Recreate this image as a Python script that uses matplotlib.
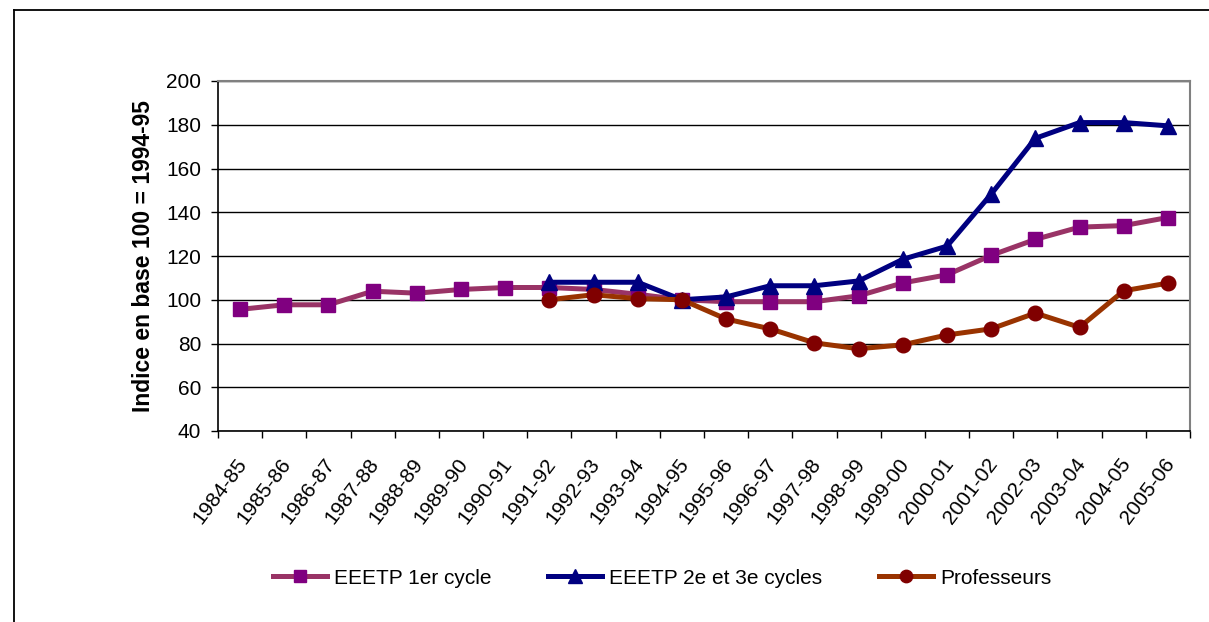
import matplotlib
matplotlib.use("Agg")
import matplotlib.pyplot as plt
from matplotlib.lines import Line2D

plt.rcParams['font.family'] = ['Liberation Sans', 'DejaVu Sans']

years = ['1984-85', '1985-86', '1986-87', '1987-88', '1988-89', '1989-90',
         '1990-91', '1991-92', '1992-93', '1993-94', '1994-95', '1995-96',
         '1996-97', '1997-98', '1998-99', '1999-00', '2000-01', '2001-02',
         '2002-03', '2003-04', '2004-05', '2005-06']

eeetp_1er = [95.6, 97.7, 97.7, 103.9, 103.0, 104.7, 105.6, 105.6, 104.7, 102.5,
             100.0, 99.1, 99.1, 99.1, 101.8, 107.7, 111.4, 120.3, 127.6, 133.2,
             133.9, 137.6]
eeetp_23 = [None] * 7 + [108.0, 108.0, 108.0, 100.0, 101.3, 106.4, 106.4, 108.6,
                         118.5, 124.5, 148.3, 173.8, 181.0, 181.0, 179.5]
profs = [None] * 7 + [100.0, 102.3, 100.5, 100.0, 91.2, 86.7, 80.3, 77.6, 79.4,
                      83.9, 86.7, 93.9, 87.4, 104.1, 107.6]

series = [
    ('EEETP 1er cycle', eeetp_1er, '#993366', '#800080', 's', 10.5),
    ('EEETP 2e et 3e cycles', eeetp_23, '#000080', '#000080', '^', 11.5),
    ('Professeurs', profs, '#993300', '#800000', 'o', 10.5),
]

fig = plt.figure(figsize=(12.09, 6.22), dpi=100)
ax = fig.add_axes([218 / 1209, 1 - 431 / 622, (1190 - 218) / 1209, (431 - 81) / 622])

for label, vals, lc, mc, mk, ms in series:
    xs = [i for i, v in enumerate(vals) if v is not None]
    ys = [v for v in vals if v is not None]
    ax.plot(xs, ys, color=lc, lw=3.6, marker=mk, markersize=ms,
            markerfacecolor=mc, markeredgecolor=mc, label=label, zorder=3)

ax.set_xlim(-0.5, len(years) - 0.5)
ax.set_ylim(40, 200)
ax.set_yticks(range(40, 201, 20))
ax.yaxis.grid(True, color='black', lw=1)
ax.set_axisbelow(True)

# tick marks between categories, labels slightly left of each category centre
ax.set_xticks([i - 0.5 for i in range(len(years) + 1)])
ax.set_xticklabels([])
ax.set_xticks([i - 0.11 for i in range(len(years))], minor=True)
ax.set_xticklabels(years, minor=True, rotation=53, ha='right', va='top',
                   rotation_mode='anchor', fontsize=15)
ax.tick_params(axis='x', which='major', direction='out', length=5, width=1)
ax.tick_params(axis='x', which='minor', length=0, pad=17)
ax.tick_params(axis='y', direction='out', length=5, width=1, labelsize=15, pad=7)

for s in ['left', 'bottom']:
    ax.spines[s].set_color('black')
    ax.spines[s].set_linewidth(1.2)
for s in ['top', 'right']:
    ax.spines[s].set_color('#808080')
    ax.spines[s].set_linewidth(1.5)

ax.set_ylabel('Indice en base 100 = 1994-95', fontsize=16.5, fontweight='bold', labelpad=8)

fig.legend(loc='center', bbox_to_anchor=(662 / 1209, 1 - 578 / 622), ncol=3,
           frameon=False, fontsize=15, handlelength=2.6, columnspacing=2.7,
           handletextpad=0.35, markerscale=0.85)

fig.add_artist(Line2D([14 / 1209, 1], [1 - 9.5 / 622, 1 - 9.5 / 622], color='black', lw=1.3))
fig.add_artist(Line2D([14 / 1209, 14 / 1209], [0, 1 - 9.5 / 622], color='black', lw=1.3))

fig.savefig('out.png', dpi=100)
